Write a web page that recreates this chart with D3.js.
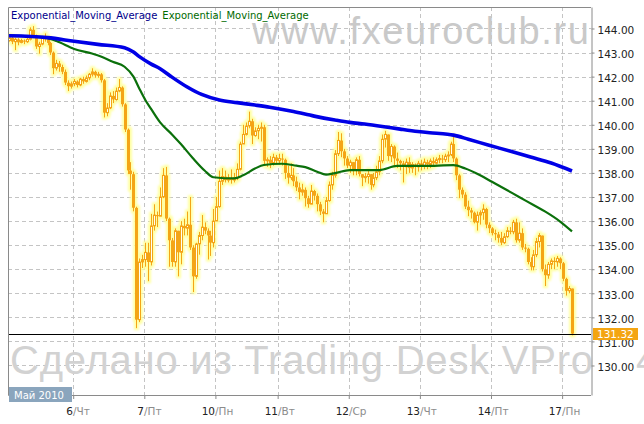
<!DOCTYPE html>
<html>
<head>
<meta charset="utf-8">
<style>
  body { margin: 0; background: #fff; }
  svg { display: block; font-family: "DejaVu Sans", sans-serif; }
</style>
<title>USD/JPY H1</title>
</head>
<body>
<script src="https://cdn.jsdelivr.net/npm/d3@7/dist/d3.min.js"></script>
<script>

// hourly candles (open = previous close)
var firstOpen = 143.50;
var closes = [
  143.62,143.45,143.55,143.42,143.50,143.45,143.55,143.95,143.70,143.25,
  143.35,143.60,143.55,143.40,143.00,142.35,142.55,142.40,142.20,141.75,
  141.60,141.70,141.80,141.65,141.90,141.80,141.95,142.10,142.20,142.05,
  142.10,141.85,140.50,140.70,141.20,141.05,141.40,141.55,140.85,139.80,
  138.10,137.95,136.55,131.90,134.30,134.40,134.70,134.30,135.80,136.25,
  136.20,137.00,137.90,136.10,135.20,134.30,135.60,134.70,135.80,135.70,
  135.85,134.90,133.70,135.05,135.40,135.75,135.60,135.40,135.10,136.00,
  136.60,137.65,137.85,137.70,137.80,137.70,137.80,138.15,139.20,139.60,
  139.95,140.15,139.55,139.75,139.85,139.90,138.50,138.55,138.40,138.65,
  138.50,138.60,138.55,138.00,137.80,137.90,137.65,137.40,137.20,137.30,
  136.95,136.70,137.25,137.05,136.70,136.40,136.30,136.85,137.50,137.90,
  138.80,139.35,138.90,138.60,138.30,138.45,138.10,138.55,137.95,137.80,
  137.85,137.95,137.50,137.80,138.05,138.50,139.40,139.60,138.70,139.10,
  138.60,138.50,138.40,138.25,138.45,138.20,138.35,138.25,138.40,138.30,
  138.45,138.35,138.50,138.40,138.55,138.60,138.55,138.70,138.75,139.20,
  138.60,137.90,137.30,137.10,136.60,136.45,136.35,135.95,136.25,136.35,
  136.50,135.85,135.70,135.50,135.45,135.30,135.10,135.35,135.60,135.55,
  135.95,135.20,135.50,134.90,134.85,134.30,134.10,134.60,135.15,135.40,
  134.00,133.75,134.20,134.35,134.30,134.45,134.25,133.60,133.10,133.20,
  131.32];
var highs = [
  143.72,143.66,143.62,143.60,143.58,143.55,143.62,144.05,144.10,143.75,
  143.45,143.70,143.80,143.65,143.45,143.05,142.70,142.65,142.50,142.30,
  141.85,141.80,141.90,141.85,141.95,142.00,142.05,142.15,142.35,142.25,
  142.20,142.15,141.90,140.90,141.35,141.40,141.55,141.90,141.60,140.90,
  139.85,138.45,138.05,136.60,134.45,134.60,135.10,135.10,136.30,136.70,
  136.40,137.40,138.20,138.25,136.15,135.30,135.70,135.50,136.00,136.10,
  136.40,137.00,135.00,135.10,135.55,136.25,135.95,135.70,135.60,136.50,
  137.00,138.10,138.20,138.10,137.95,138.15,138.00,138.40,139.30,140.00,
  140.10,140.55,140.25,139.90,140.00,140.10,140.00,138.65,138.70,138.80,
  138.75,138.80,138.80,138.60,138.30,138.40,138.20,137.85,137.60,137.55,
  137.40,137.05,137.50,137.30,137.15,136.80,136.50,137.00,137.65,138.05,
  138.95,139.70,139.65,139.00,138.70,138.55,138.40,138.65,138.70,137.95,
  138.00,138.15,137.95,138.00,138.30,138.70,139.60,139.75,139.40,139.20,
  139.15,138.85,138.55,138.50,138.60,138.65,138.45,138.40,138.50,138.55,
  138.60,138.55,138.60,138.65,138.65,138.75,138.75,138.80,138.90,139.30,
  139.55,138.65,137.95,137.40,137.20,136.85,136.55,136.40,136.40,136.45,
  136.70,136.55,135.95,135.75,135.65,135.55,135.55,135.50,135.75,135.75,
  136.05,136.10,135.95,135.70,135.05,134.90,134.50,134.80,135.30,135.50,
  135.30,134.20,134.30,134.45,134.50,134.55,134.50,134.30,133.65,133.30,
  133.20];
var lows = [
  143.45,143.35,143.10,143.30,143.38,143.35,143.40,143.50,143.60,143.15,
  142.95,143.30,143.45,143.30,142.90,142.10,142.25,142.20,142.10,141.65,
  141.40,141.50,141.60,141.55,141.60,141.70,141.75,141.85,142.00,141.95,
  141.95,141.75,140.30,140.35,140.65,140.90,141.00,141.35,140.75,139.70,
  137.95,137.30,136.40,131.55,131.80,134.05,134.10,133.50,134.15,135.60,
  135.75,136.20,136.95,136.00,134.10,134.10,134.10,133.70,134.20,135.40,
  135.40,134.80,133.05,133.60,134.60,135.20,135.45,134.40,134.55,134.90,
  136.00,136.55,137.50,137.60,137.60,137.55,137.60,137.70,138.10,139.20,
  139.55,139.85,139.20,139.50,139.40,139.30,138.30,138.25,138.20,138.30,
  138.40,138.35,138.30,137.75,137.55,137.70,137.45,137.25,136.90,137.05,
  136.60,136.55,136.75,136.85,136.40,136.25,135.95,136.30,136.80,137.30,
  137.80,138.70,138.65,138.30,138.20,138.00,137.90,137.90,137.85,137.45,
  137.60,137.55,137.30,137.40,137.70,137.90,138.40,139.05,138.50,138.45,
  138.30,138.20,138.10,137.60,137.95,138.00,138.00,137.90,138.05,138.10,
  138.15,138.15,138.20,138.25,138.35,138.40,138.40,138.45,138.45,138.70,
  138.45,137.70,136.95,136.95,136.50,136.20,136.10,135.90,135.60,135.85,
  136.05,135.70,135.50,135.40,135.20,135.10,135.00,135.05,135.30,135.45,
  135.45,135.10,135.10,134.80,134.70,134.20,133.95,133.95,134.50,134.90,
  133.90,133.30,133.60,134.00,134.00,134.10,134.00,133.50,132.90,133.00,
  131.25];

// moving averages, [candle index, value]
var emaSlow = [[0,143.70],[13,143.62],[22,143.47],[30,143.34],[39,143.20],[42,143.02],
  [44,142.83],[48,142.52],[51,142.33],[55,141.98],[60,141.58],[65,141.26],[71,141.03],
  [77,140.92],[83,140.82],[88,140.73],[96,140.55],[103,140.36],[110,140.20],[115,140.10],
  [120,140.03],[126,139.93],[132,139.82],[138,139.72],[142,139.67],[148,139.61],[150,139.57],
  [155,139.40],[162,139.15],[169,138.91],[176,138.66],[183,138.41],[190,138.08]];
var emaFast = [[0,143.72],[12,143.62],[16,143.48],[22,143.15],[28,142.96],[31,142.84],
  [35,142.62],[39,142.41],[42,142.00],[44,141.50],[46,141.03],[48,140.65],[51,140.10],
  [55,139.60],[58,139.20],[62,138.62],[66,138.10],[69,137.82],[76,137.77],[79,137.90],
  [83,138.18],[86,138.33],[92,138.38],[97,138.30],[100,138.24],[104,138.05],[107,137.93],
  [110,137.99],[115,138.12],[125,138.12],[131,138.29],[140,138.29],[150,138.32],[154,138.18],
  [159,137.90],[163,137.63],[168,137.29],[172,137.01],[177,136.67],[181,136.39],[186,135.98],
  [190,135.57]];

var priceTicks = d3.range(130, 145);
var dayIdx  = [22, 46, 70, 91, 115, 139, 163, 187];
var dayNum  = ["6", "7", "10", "11", "12", "13", "14", "17"];
var dayName = ["Чт", "Пт", "Пн", "Вт", "Ср", "Чт", "Пт", "Пн"];
var lastPrice = 131.32;
var legendNames = ["Exponential_Moving_Average", "Exponential_Moving_Average"];

var W = 644, H = 424;
var pL = 8, pR = 591, pT = 7, pB = 395;

var x = d3.scaleLinear().domain([0, 190]).range([9, 572]);
var y = d3.scaleLinear().domain([128.774, 144.893]).range([pB, pT]);

var svg = d3.select("body").append("svg")
  .attr("width", W).attr("height", H);

var defs = svg.append("defs");
defs.append("clipPath").attr("id", "plot")
  .append("rect").attr("x", pL).attr("y", pT)
  .attr("width", pR - pL).attr("height", pB - pT);
var glow = defs.append("filter").attr("id", "glow")
  .attr("x", "-50%").attr("y", "-20%").attr("width", "200%").attr("height", "140%");
glow.append("feMorphology").attr("in", "SourceAlpha").attr("operator", "dilate")
  .attr("radius", 1.5).attr("result", "d");
glow.append("feGaussianBlur").attr("in", "d").attr("stdDeviation", 0.9).attr("result", "b");
glow.append("feFlood").attr("flood-color", "#ffff9a").attr("flood-opacity", 0.9);
glow.append("feComposite").attr("in2", "b").attr("operator", "in").attr("result", "g");
var merge = glow.append("feMerge");
merge.append("feMergeNode").attr("in", "g");
merge.append("feMergeNode").attr("in", "SourceGraphic");

// grid
var grid = svg.append("g").attr("stroke", "#c4c4c4").attr("stroke-dasharray", "4,3");
grid.selectAll(".hg").data(priceTicks).enter().append("line")
  .attr("x1", pL).attr("x2", pR)
  .attr("y1", d => Math.round(y(d)) + 0.5).attr("y2", d => Math.round(y(d)) + 0.5);
grid.selectAll(".vg").data(dayIdx).enter().append("line")
  .attr("y1", pT).attr("y2", pB)
  .attr("x1", d => Math.round(x(d)) - 0.5).attr("x2", d => Math.round(x(d)) - 0.5);

// watermarks
svg.append("text").attr("x", 252).attr("y", 44)
  .attr("font-family", "Liberation Sans").attr("font-size", 38)
  .attr("fill", "#c9c9c9").attr("textLength", 337).attr("lengthAdjust", "spacing")
  .text("www.fxeuroclub.ru");
var wm = svg.append("g").attr("font-family", "Liberation Sans").attr("font-size", 40)
  .attr("fill", "#d2d2d2");
wm.append("text").attr("x", 10).attr("y", 374)
  .attr("textLength", 583).attr("lengthAdjust", "spacing")
  .text("Сделано из Trading Desk VPro");
wm.append("text").attr("x", 636).attr("y", 374).text("4");

// candles
var candles = closes.map(function(c, i) {
  var o = i ? closes[i - 1] : firstOpen;
  return {i: i, o: o, c: c, h: Math.max(highs[i], o, c), l: Math.min(lows[i], o, c)};
});
var orange = "#f4a512";
var cg = svg.append("g").attr("clip-path", "url(#plot)")
  .append("g").attr("filter", "url(#glow)");
var cs = cg.selectAll("g").data(candles).enter().append("g");
cs.append("line")
  .attr("x1", d => Math.round(x(d.i)) + 0.5).attr("x2", d => Math.round(x(d.i)) + 0.5)
  .attr("y1", d => y(d.h)).attr("y2", d => y(d.l))
  .attr("stroke", orange);
cs.filter(d => d.c < d.o).append("rect")
  .attr("x", d => Math.round(x(d.i)) - 1).attr("width", 3)
  .attr("y", d => y(d.o)).attr("height", d => Math.max(1, y(d.c) - y(d.o)))
  .attr("fill", orange);
cs.filter(d => d.c >= d.o).append("rect")
  .attr("x", d => Math.round(x(d.i)) - 0.5).attr("width", 2)
  .attr("y", d => y(d.c)).attr("height", d => Math.max(0.5, y(d.o) - y(d.c)))
  .attr("fill", "#fffff0").attr("stroke", orange);

// moving averages
var line = d3.line().x(d => x(d[0])).y(d => y(d[1])).curve(d3.curveMonotoneX);
var lg = svg.append("g").attr("clip-path", "url(#plot)");
lg.append("path").datum(emaFast).attr("d", line)
  .attr("fill", "none").attr("stroke", "#0b700b").attr("stroke-width", 2.2);
lg.append("path").datum(emaSlow).attr("d", line)
  .attr("fill", "none").attr("stroke", "#0000e6").attr("stroke-width", 3.6);

// last price line
svg.append("line").attr("x1", pL).attr("x2", pR)
  .attr("y1", Math.round(y(lastPrice)) + 0.5).attr("y2", Math.round(y(lastPrice)) + 0.5)
  .attr("stroke", "#000");

// frame
var frame = svg.append("g").attr("stroke", "#8a8a8a").attr("fill", "none");
frame.append("path").attr("d", `M${pR},${pT + 0.5}H${pL + 0.5}V${pB + 0.5}H${pR}`);

// right axis
var yAxis = d3.axisRight(y).tickValues(priceTicks).tickSize(3).tickSizeOuter(0)
  .tickFormat(d => d.toFixed(2));
var ya = svg.append("g").attr("transform", `translate(${pR + 0.5},0)`).call(yAxis);
ya.selectAll("path, line").attr("stroke", "#8a8a8a");
ya.selectAll("text").attr("x", 6).attr("dy", "0.45em")
  .attr("font-family", "DejaVu Sans").attr("font-size", 10.5).attr("fill", "#222");

// bottom axis
var xAxis = d3.axisBottom(x).tickValues(dayIdx).tickSize(4).tickSizeOuter(0).tickFormat("");
var xa = svg.append("g").attr("transform", `translate(-1,${pB})`).call(xAxis);
xa.select(".domain").remove();
xa.selectAll("line").attr("stroke", "#8a8a8a");
var dl = svg.append("g").attr("font-family", "DejaVu Sans").attr("font-size", 10.5);
dl.selectAll(".dn").data(dayIdx).enter().append("text")
  .attr("x", d => Math.round(x(d)) - 1).attr("y", 415)
  .attr("text-anchor", "end").attr("fill", "#222")
  .text((d, k) => dayNum[k]);
dl.selectAll(".dw").data(dayIdx).enter().append("text")
  .attr("x", d => Math.round(x(d)) - 1).attr("y", 415)
  .attr("fill", "#8c8c8c")
  .text((d, k) => "/" + dayName[k]);

// month box
svg.append("rect").attr("x", 9).attr("y", 387).attr("width", 63).attr("height", 15)
  .attr("fill", "#8aa5bd");
svg.append("text").attr("x", 14).attr("y", 399)
  .attr("font-size", 10).attr("fill", "#fff").text("Май 2010");

// last price box
svg.append("rect").attr("x", 593).attr("y", Math.round(y(lastPrice)) - 6)
  .attr("width", 45).attr("height", 12).attr("fill", "#f4a512");
svg.append("text").attr("x", 597).attr("y", Math.round(y(lastPrice)) + 4)
  .attr("font-size", 10.5).attr("fill", "#fff").text(lastPrice.toFixed(2));

// legend
var l1 = svg.append("text").attr("x", 11).attr("y", 19)
  .attr("font-size", 10).attr("fill", "#00008c").text(legendNames[0]);
svg.append("text").attr("x", 11 + l1.node().getComputedTextLength() + 5).attr("y", 19)
  .attr("font-size", 10).attr("fill", "#006a00").text(legendNames[1]);

</script>
</body>
</html>
